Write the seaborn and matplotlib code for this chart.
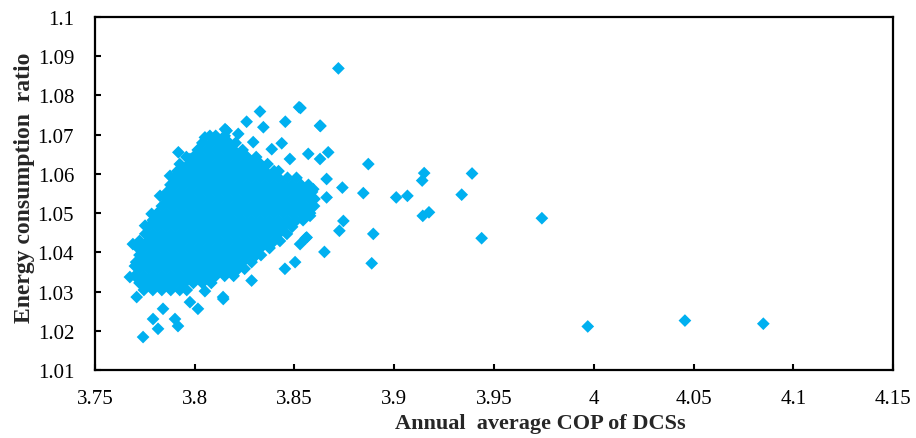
import matplotlib
matplotlib.use("Agg")
import matplotlib.pyplot as plt
import seaborn as sns
import pandas as pd

# dense core of the cloud, one ratio level per row of COP values
core_ratio = [1.0697, 1.0679, 1.0661, 1.0643, 1.0625, 1.0607, 1.0590, 1.0572,
              1.0554, 1.0536, 1.0518, 1.0500, 1.0482, 1.0465, 1.0447, 1.0429,
              1.0411, 1.0393, 1.0375, 1.0358, 1.0340, 1.0322, 1.0304]
core_cop = [
    [3.8105, 3.8150],
    [3.8038, 3.8083, 3.8128, 3.8173, 3.8205],
    [3.8015, 3.8060, 3.8105, 3.8150, 3.8195, 3.8240],
    [3.7958, 3.7993, 3.8038, 3.8083, 3.8128, 3.8173, 3.8218, 3.8263, 3.8308],
    [3.7925, 3.7970, 3.8015, 3.8060, 3.8105, 3.8150, 3.8195, 3.8240, 3.8285, 3.8330, 3.8365],
    [3.7913, 3.7948, 3.7993, 3.8038, 3.8083, 3.8128, 3.8173, 3.8218, 3.8263, 3.8308, 3.8353,
     3.8398, 3.8420],
    [3.7898, 3.7925, 3.7970, 3.8015, 3.8060, 3.8105, 3.8150, 3.8195, 3.8240, 3.8285, 3.8330,
     3.8375, 3.8420, 3.8465, 3.8510],
    [3.7878, 3.7903, 3.7948, 3.7993, 3.8038, 3.8083, 3.8128, 3.8173, 3.8218, 3.8263, 3.8308,
     3.8353, 3.8398, 3.8443, 3.8488, 3.8533, 3.8570],
    [3.7862, 3.7880, 3.7925, 3.7970, 3.8015, 3.8060, 3.8105, 3.8150, 3.8195, 3.8240, 3.8285,
     3.8330, 3.8375, 3.8420, 3.8465, 3.8510, 3.8555, 3.8588],
    [3.7858, 3.7903, 3.7948, 3.7993, 3.8038, 3.8083, 3.8128, 3.8173, 3.8218, 3.8263, 3.8308,
     3.8353, 3.8398, 3.8443, 3.8488, 3.8533, 3.8578, 3.8600],
    [3.7835, 3.7880, 3.7925, 3.7970, 3.8015, 3.8060, 3.8105, 3.8150, 3.8195, 3.8240, 3.8285,
     3.8330, 3.8375, 3.8420, 3.8465, 3.8510, 3.8555, 3.8598],
    [3.7813, 3.7858, 3.7903, 3.7948, 3.7993, 3.8038, 3.8083, 3.8128, 3.8173, 3.8218, 3.8263,
     3.8308, 3.8353, 3.8398, 3.8443, 3.8488, 3.8533, 3.8578],
    [3.7790, 3.7835, 3.7880, 3.7925, 3.7970, 3.8015, 3.8060, 3.8105, 3.8150, 3.8195, 3.8240,
     3.8285, 3.8330, 3.8375, 3.8420, 3.8465, 3.8510, 3.8543],
    [3.7768, 3.7813, 3.7858, 3.7903, 3.7948, 3.7993, 3.8038, 3.8083, 3.8128, 3.8173, 3.8218,
     3.8263, 3.8308, 3.8353, 3.8398, 3.8443, 3.8488],
    [3.7752, 3.7790, 3.7835, 3.7880, 3.7925, 3.7970, 3.8015, 3.8060, 3.8105, 3.8150, 3.8195,
     3.8240, 3.8285, 3.8330, 3.8375, 3.8420, 3.8462],
    [3.7723, 3.7768, 3.7813, 3.7858, 3.7903, 3.7948, 3.7993, 3.8038, 3.8083, 3.8128, 3.8173,
     3.8218, 3.8263, 3.8308, 3.8353, 3.8398, 3.8427],
    [3.7716, 3.7745, 3.7790, 3.7835, 3.7880, 3.7925, 3.7970, 3.8015, 3.8060, 3.8105, 3.8150,
     3.8195, 3.8240, 3.8285, 3.8330, 3.8375],
    [3.7723, 3.7768, 3.7813, 3.7858, 3.7903, 3.7948, 3.7993, 3.8038, 3.8083, 3.8128, 3.8173,
     3.8218, 3.8263, 3.8308, 3.8332],
    [3.7706, 3.7745, 3.7790, 3.7835, 3.7880, 3.7925, 3.7970, 3.8015, 3.8060, 3.8105, 3.8150,
     3.8195, 3.8240, 3.8285],
    [3.7723, 3.7768, 3.7813, 3.7858, 3.7903, 3.7948, 3.7993, 3.8038, 3.8083, 3.8128, 3.8173,
     3.8218, 3.8250],
    [3.7700, 3.7745, 3.7790, 3.7835, 3.7880, 3.7925, 3.7970, 3.8015, 3.8060, 3.8105, 3.8150,
     3.8195],
    [3.7723, 3.7768, 3.7813, 3.7858, 3.7903, 3.7948, 3.7993, 3.8038, 3.8083],
    [3.7745, 3.7790, 3.7835, 3.7880, 3.7925, 3.7960],
]

# loose points around the edge of the cloud
edge_cop = [3.7918, 3.7976, 3.7876, 3.7826, 3.7784, 3.7751, 3.8051, 3.8152, 3.8076,
            3.8327, 3.8523, 3.8260, 3.8344, 3.8454, 3.8628, 3.8160, 3.8218, 3.8293,
            3.8436, 3.8386, 3.8569, 3.8669, 3.8477, 3.8628, 3.8661, 3.8661, 3.8594,
            3.8578, 3.8519, 3.8544, 3.8452, 3.8503, 3.8285, 3.8143, 3.8528, 3.8561,
            3.7841, 3.7791, 3.7816, 3.7741, 3.7901, 3.7916, 3.8016, 3.7976, 3.8142,
            3.8051, 3.7675, 3.7700, 3.7709, 3.7709, 3.7690]
edge_ratio = [1.0655, 1.0638, 1.0595, 1.0544, 1.0498, 1.0468, 1.0693, 1.0714, 1.0697,
              1.0759, 1.0770, 1.0733, 1.0719, 1.0733, 1.0723, 1.0710, 1.0702, 1.0681,
              1.0678, 1.0663, 1.0651, 1.0655, 1.0638, 1.0638, 1.0587, 1.0540, 1.0561,
              1.0493, 1.0510, 1.0544, 1.0358, 1.0375, 1.0328, 1.0281, 1.0421, 1.0438,
              1.0256, 1.0230, 1.0205, 1.0184, 1.0230, 1.0212, 1.0256, 1.0273, 1.0286,
              1.0301, 1.0337, 1.0365, 1.0417, 1.0286, 1.0421]

# isolated points to the right
far_cop = [3.872, 3.853, 3.863, 3.887, 3.915, 3.914, 3.939, 3.874, 3.8845, 3.901,
           3.9066, 3.9338, 3.9143, 3.9174, 3.974, 3.8745, 3.8725, 3.8895, 3.9438,
           3.8556, 3.865, 3.8887, 3.997, 4.0457, 4.085]
far_ratio = [1.0869, 1.0768, 1.0722, 1.0625, 1.0602, 1.0583, 1.0601, 1.0565, 1.0551,
             1.0540, 1.0544, 1.0547, 1.0493, 1.0502, 1.0487, 1.0480, 1.0455, 1.0447,
             1.0436, 1.0436, 1.0401, 1.0372, 1.0211, 1.0226, 1.0218]

x_ticks = [3.75, 3.8, 3.85, 3.9, 3.95, 4.0, 4.05, 4.1, 4.15]
x_labels = ["3.75", "3.8", "3.85", "3.9", "3.95", "4", "4.05", "4.1", "4.15"]
y_ticks = [1.01, 1.02, 1.03, 1.04, 1.05, 1.06, 1.07, 1.08, 1.09, 1.1]
y_labels = ["1.01", "1.02", "1.03", "1.04", "1.05", "1.06", "1.07", "1.08", "1.09", "1.1"]

cop = []
ratio = []
for r, row in zip(core_ratio, core_cop):
    cop += row
    ratio += [r] * len(row)
cop += edge_cop + far_cop
ratio += edge_ratio + far_ratio
df = pd.DataFrame({"cop": cop, "ratio": ratio})

sns.set_theme(style="white")
plt.rcParams["font.family"] = ["Liberation Serif", "DejaVu Serif"]

fig = plt.figure(figsize=(9.16, 4.39), dpi=100)
ax = fig.add_axes([0.1037, 0.1549, 0.8712, 0.8041])

sns.scatterplot(data=df, x="cop", y="ratio", ax=ax, marker="D", s=42,
                color="#00B0F0", linewidth=0, edgecolor="none", legend=False)

ax.set_xlim(3.75, 4.15)
ax.set_ylim(1.01, 1.1)
ax.set_xticks(x_ticks)
ax.set_xticklabels(x_labels)
ax.set_yticks(y_ticks)
ax.set_yticklabels(y_labels)
ax.tick_params(axis="both", direction="in", length=4, width=1.5, colors="black",
               labelsize=15)
ax.tick_params(axis="x", pad=14, top=False, bottom=True)
ax.tick_params(axis="y", pad=15, right=False, left=True)

for sp in ax.spines.values():
    sp.set_visible(True)
    sp.set_color("black")
    sp.set_linewidth(1.6)

ax.set_xlabel("Annual  average COP of DCSs", fontsize=16, fontweight="bold", labelpad=3)
ax.set_ylabel("Energy consumption  ratio", fontsize=17, fontweight="bold", labelpad=2)
# the titles sit a little off-centre in the original
ax.xaxis.label.set_x(0.558)
ax.yaxis.label.set_y(0.52)

fig.savefig("out.png", dpi=100)
plt.close(fig)
